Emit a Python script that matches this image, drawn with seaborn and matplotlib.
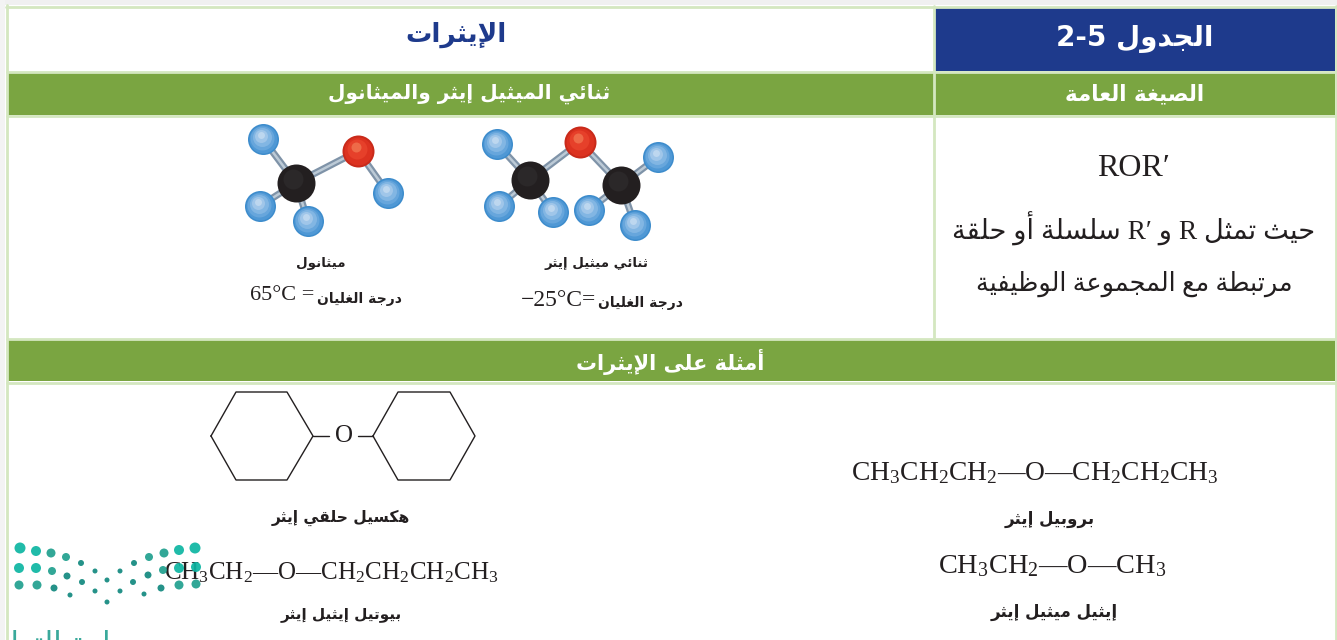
import matplotlib
matplotlib.use("Agg")
import matplotlib.pyplot as plt
import pandas as pd
import seaborn as sns
from matplotlib.patches import Rectangle

# Table text
TITLE = "الإيثرات"
TABLE_NO = "الجدول 2-5"
GENERAL_FORMULA = "الصيغة العامة"
MOLECULES_HEAD = "ثنائي الميثيل إيثر والميثانول"
EXAMPLES_HEAD = "أمثلة على الإيثرات"
DME_NAME = "ثنائي ميثيل إيثر"
METHANOL_NAME = "ميثانول"
BOILING = "درجة الغليان"
DME_BP = "−25°C="
METHANOL_BP = "65°C ="
ROR = "ROR′"
DEF_LINE_1 = "حيث تمثل R و R′ سلسلة أو حلقة"
DEF_LINE_2 = "مرتبطة مع المجموعة الوظيفية"
CYCLOHEXYL_NAME = "هكسيل حلقي إيثر"
BUTYL_NAME = "بيوتيل إيثيل إيثر"
PROPYL_NAME = "بروبيل إيثر"
ETHYL_NAME = "إيثيل ميثيل إيثر"
WATERMARK = "وزارة التعليم"
PROPYL_FORMULA = r"$\mathrm{CH_3CH_2CH_2—O—CH_2CH_2CH_3}$"
ETHYL_FORMULA = r"$\mathrm{CH_3CH_2—O—CH_3}$"
BUTYL_FORMULA = r"$\mathrm{CH_3CH_2—O—CH_2CH_2CH_2CH_3}$"

# Ball and stick models, picture coordinates
atom_kind = ["H", "O", "C", "C", "H", "H", "H", "H", "H",
             "H", "O", "C", "H", "H", "H"]
atom_x = [497, 580, 530, 621, 658, 499, 553, 589, 635,
          263, 358, 296, 388, 260, 308]
atom_y = [144, 142, 180, 185, 157, 206, 212, 210, 225,
          139, 151, 183, 193, 206, 221]
bond_from = [0, 1, 1, 3, 2, 2, 3, 3, 9, 10, 10, 11, 11]
bond_to = [2, 2, 3, 4, 5, 6, 7, 8, 11, 11, 12, 13, 14]

# Skeleton lines
hex_left_x = [211, 236, 287, 313, 287, 236, 211]
hex_left_y = [436, 392, 392, 436, 480, 480, 436]
hex_right_x = [373, 398, 450, 475, 450, 398, 373]
hex_right_y = [436, 392, 392, 436, 480, 480, 436]
link_x = [[313, 329], [358, 373]]
link_y = [[436, 436], [436, 436]]

# Logo dots
dot_x = [20, 36, 51, 66, 81, 95, 120, 134, 149, 164, 179, 195,
         19, 36, 52, 67, 82, 107, 133, 148, 163, 179, 196,
         19, 37, 54, 70, 95, 120, 144, 161, 179, 196, 107]
dot_y = [548, 551, 553, 557, 563, 571, 571, 563, 557, 553, 550, 548,
         568, 568, 571, 576, 582, 580, 582, 575, 570, 568, 567,
         585, 585, 588, 595, 591, 591, 594, 588, 585, 584, 602]
dot_r = [5.5, 5, 4.5, 4, 3, 2.5, 2.5, 3, 4, 4.5, 5, 5.5,
         5, 5, 4, 3.5, 3, 2.5, 3, 3.5, 4, 5, 5,
         4.5, 4.5, 3.5, 2.5, 2.5, 2.5, 2.5, 3.5, 4.5, 4.5, 2.5]

NAVY = "#1e3a8c"
GREEN = "#7aa541"
PALE = "#d4e7c0"
INK = "#231f20"

FORMS = {}
for letters, start, count in [("ئ", 0xFE89, 4), ("ا", 0xFE8D, 2), ("ب", 0xFE8F, 4),
                              ("ة", 0xFE93, 2), ("تثجحخ", 0xFE95, 4), ("دذرز", 0xFEA9, 2),
                              ("سشصضطظعغفقكلمن", 0xFEB1, 4), ("ه", 0xFEE9, 4), ("وى", 0xFEED, 2), ("ي", 0xFEF1, 4)]:
    for i, letter in enumerate(letters):
        FORMS[letter] = start + i * count
FORMS["ء"] = 0xFE80
for i, letter in enumerate("آأؤإ"):
    FORMS[letter] = 0xFE81 + i * 2
LAM_ALEF = {"آ": 0xFEF5, "أ": 0xFEF7, "إ": 0xFEF9, "ا": 0xFEFB}
NO_NEXT = set("ءآأؤإادذرزةوى")


def shape_word(word):
    # pick contextual forms, result comes back in drawing order
    out = []
    i = 0
    joined = False
    while i < len(word):
        ch = word[i]
        if ch == "ل" and i + 1 < len(word) and word[i + 1] in LAM_ALEF:
            out.append(chr(LAM_ALEF[word[i + 1]] + (1 if joined else 0)))
            joined = False
            i += 2
            continue
        can_next = ch not in NO_NEXT and i + 1 < len(word) and word[i + 1] in FORMS
        base = FORMS[ch]
        if ch in NO_NEXT:
            out.append(chr(base + (1 if joined else 0)))
        elif joined and can_next:
            out.append(chr(base + 3))
        elif joined:
            out.append(chr(base + 1))
        elif can_next:
            out.append(chr(base + 2))
        else:
            out.append(chr(base))
        joined = can_next
        i += 1
    return "".join(reversed(out))


def rtl(text):
    words = []
    for word in text.split(" "):
        words.append(shape_word(word) if word and word[0] in FORMS else word)
    return " ".join(reversed(words))


def plot_lines(ax, xs, ys, color=INK, width=1.0, z=2):
    frame = pd.DataFrame({
        "x": [v for line in xs for v in line],
        "y": [v for line in ys for v in line],
        "line": [i for i, line in enumerate(xs) for v in line],
    })
    sns.lineplot(data=frame, x="x", y="y", units="line", estimator=None, sort=False,
                 color=color, linewidth=width, ax=ax, zorder=z, legend=False)


def plot_atoms(ax, atoms):
    # stacked discs fake the shading of the rendered spheres
    layers = {
        "H": [(15.5, 0, 0, "#3d8ccc"), (14, -0.5, -0.5, "#4f98d5"), (12, -1, -1, "#67a6dc"),
              (9.5, -1.5, -2, "#82b6e3"), (6.5, -2, -3, "#a0c6e9"), (3.5, -2.5, -4, "#bdd7ef")],
        "O": [(16, 0, 0, "#c92a1a"), (14, -0.5, -0.5, "#dc3220"), (10, -1, -2, "#e6402a"),
              (5, -2, -4, "#ee6a48")],
        "C": [(19, 0, 0, "#231f20"), (10, -3, -4, "#2b2829")],
    }
    for kind, steps in layers.items():
        sub = atoms[atoms["kind"] == kind]
        for radius, dx, dy, color in steps:
            area = (2 * radius * 0.72) ** 2
            sns.scatterplot(x=sub["x"] + dx, y=sub["y"] + dy, s=area, color=color,
                            linewidth=0, ax=ax, zorder=4, legend=False)


def main():
    sns.set_theme(style="white")
    plt.rcParams["font.family"] = ["DejaVu Sans"]
    plt.rcParams["mathtext.fontset"] = "custom"
    plt.rcParams["mathtext.rm"] = "Liberation Serif"

    fig = plt.figure(figsize=(13.37, 6.4), dpi=100, facecolor="white")
    ax = fig.add_axes([0, 0, 1, 1])
    ax.set_xlim(0, 1337)
    ax.set_ylim(640, 0)
    ax.set_axis_off()

    # table frame
    ax.add_patch(Rectangle((0, 0), 1337, 5, color="#f0f0f0", lw=0, zorder=0))
    ax.add_patch(Rectangle((0, 0), 5, 640, color="#f3f3f3", lw=0, zorder=0))
    ax.add_patch(Rectangle((935, 8), 400, 63, color=NAVY, lw=0, zorder=1))
    ax.add_patch(Rectangle((8, 73), 1327, 42, color=GREEN, lw=0, zorder=1))
    ax.add_patch(Rectangle((8, 340), 1327, 41, color=GREEN, lw=0, zorder=1))
    plot_lines(ax, [[5.5, 1335.5], [7, 1335], [7, 1335], [7, 1335], [7, 1335]],
               [[6.5, 6.5], [71.5, 71.5], [116, 116], [338.5, 338.5], [382.5, 382.5]], PALE, 2.0, 2)
    plot_lines(ax, [[6.5, 6.5], [933.5, 933.5], [1335.5, 1335.5]],
               [[5, 640], [6, 338], [6, 640]], PALE, 2.0, 2)

    # molecules
    atoms = pd.DataFrame({"kind": atom_kind, "x": atom_x, "y": atom_y})
    bx = [[atom_x[a], atom_x[b]] for a, b in zip(bond_from, bond_to)]
    by = [[atom_y[a], atom_y[b]] for a, b in zip(bond_from, bond_to)]
    plot_lines(ax, bx, by, "#7f93a8", 5, 3)
    plot_lines(ax, bx, by, "#bccad6", 1.8, 3)
    plot_atoms(ax, atoms)

    # cyclohexyl ether skeleton
    plot_lines(ax, [hex_left_x, hex_right_x] + link_x, [hex_left_y, hex_right_y] + link_y, INK, 1.0, 2)

    bold = dict(fontweight="bold", ha="center", va="center", zorder=5)
    ax.text(456, 35, rtl(TITLE), color=NAVY, fontsize=19, **bold)
    ax.text(1135, 39, rtl(TABLE_NO), color="white", fontsize=20, **bold)
    ax.text(1135, 94, rtl(GENERAL_FORMULA), color="white", fontsize=15.5, **bold)
    ax.text(469, 94, rtl(MOLECULES_HEAD), color="white", fontsize=14.5, **bold)
    ax.text(670, 362, rtl(EXAMPLES_HEAD), color="white", fontsize=15, **bold)
    ax.text(597, 263, rtl(DME_NAME), color=INK, fontsize=9.6, **bold)
    ax.text(321, 264, rtl(METHANOL_NAME), color=INK, fontsize=9.6, **bold)
    ax.text(640, 303, rtl(BOILING), color=INK, fontsize=10, **bold)
    ax.text(359, 299, rtl(BOILING), color=INK, fontsize=10, **bold)
    ax.text(341, 518, rtl(CYCLOHEXYL_NAME), color=INK, fontsize=11.2, **bold)
    ax.text(341, 614, rtl(BUTYL_NAME), color=INK, fontsize=11, **bold)
    ax.text(1050, 519, rtl(PROPYL_NAME), color=INK, fontsize=12, **bold)
    ax.text(1054, 612, rtl(ETHYL_NAME), color=INK, fontsize=12, **bold)

    serif = dict(family=["Liberation Serif", "DejaVu Sans"], color=INK, ha="center", va="center", zorder=5)
    ax.text(559, 301, DME_BP, fontsize=17, **serif)
    ax.text(282, 296, METHANOL_BP, fontsize=16, **serif)
    ax.text(1134, 168, ROR, fontsize=23, **serif)
    ax.text(1134, 229, rtl(DEF_LINE_1), fontsize=19.6, **serif)
    ax.text(1134, 284, rtl(DEF_LINE_2), fontsize=18.4, **serif)
    ax.text(344, 436, "O", fontsize=18, **serif)
    ax.text(1035, 473, PROPYL_FORMULA, fontsize=19.8, **serif)
    ax.text(1052, 566, ETHYL_FORMULA, fontsize=20.4, **serif)
    ax.text(331, 573, BUTYL_FORMULA, fontsize=18, **serif)

    # logo over the table
    logo = pd.DataFrame({"x": dot_x, "y": dot_y, "r": dot_r})
    logo["shade"] = ["bright" if r >= 5 else "mid" if r >= 4 else "deep" for r in dot_r]
    sizes = {r: (2 * r * 0.72) ** 2 for r in set(dot_r)}
    sns.scatterplot(data=logo, x="x", y="y", size="r", sizes=sizes, hue="shade",
                    palette={"bright": "#0db5a2", "mid": "#20a08e", "deep": "#12897f"},
                    linewidth=0, alpha=0.92, ax=ax, zorder=6, legend=False)
    ax.text(60, 646, rtl(WATERMARK), color="#3aa99b", fontsize=22, ha="center", va="center",
            zorder=6, clip_on=True)

    fig.savefig("out.png", dpi=100, facecolor="white")


if __name__ == "__main__":
    main()
